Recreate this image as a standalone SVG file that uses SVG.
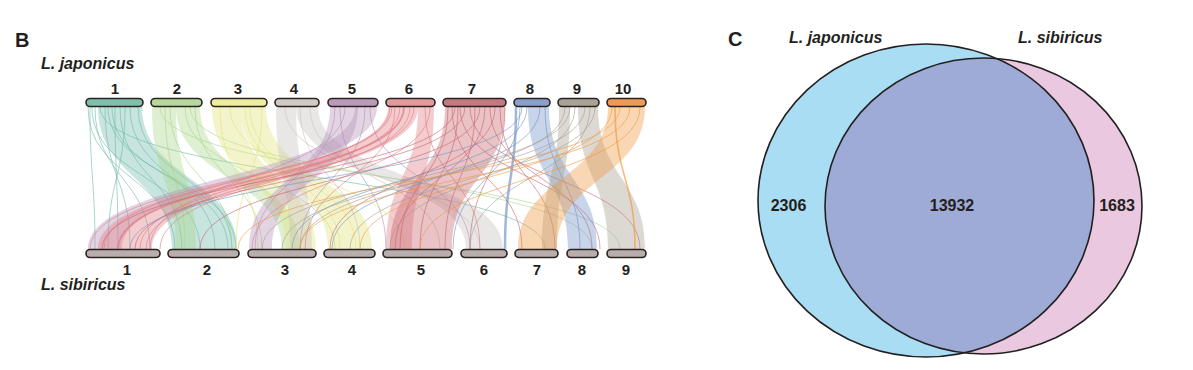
<svg xmlns="http://www.w3.org/2000/svg" width="1193" height="370" viewBox="0 0 1193 370">
<style>
text{font-family:"Liberation Sans",Arial,sans-serif;font-weight:bold;fill:#231f20}
.lbl{font-size:15px;text-anchor:middle}
.sp{font-size:16px;font-style:italic}
.num{font-size:16px;text-anchor:middle}
.bar{stroke:#2b2220;stroke-width:1.6}
.bb{fill:#b8aeae}
.t1{color:#6bb8a8}.t2{color:#a8d48a}.t3{color:#e2e27a}
.t4{color:#c4c0bc}.t5{color:#b48fb6}.t6{color:#e07a80}
.t7{color:#c8606a}.t8{color:#6f8fc4}.t9{color:#a49c8c}
.t10{color:#f0963c}
.r{fill:currentColor;fill-opacity:0.38;stroke:none}
.l{fill:none;stroke:currentColor;stroke-width:0.9;stroke-opacity:0.65}
.ven{fill:none;stroke:#231f20;stroke-width:1.6}
</style>
<defs>
<clipPath id="clipL"><ellipse cx="926" cy="200.5" rx="168" ry="156.5"/></clipPath>
</defs>
<rect width="1193" height="370" fill="#ffffff"/>
<text x="15" y="47" style="font-size:20px">B</text>
<text x="41" y="69" class="sp">L. japonicus</text>
<text x="41" y="290" class="sp">L. sibiricus</text>

<g id="connectors">
<!-- teal -->
<path class="r t1" d="M118,107 C118,178 200,178 200,249 L237,249 C237,178 142,178 142,107 Z"/>
<path class="r t1" d="M98,107 C98,178 172,178 172,249 L200,249 C200,178 118,178 118,107 Z"/>
<path class="l t1" d="M90,107 C90,178 95,178 95,249"/>
<path class="l t1" d="M105,107 C105,178 130,178 130,249"/>
<path class="l t1" d="M95,107 C95,178 150,178 150,249"/>
<path class="l t1" d="M125,107 C125,178 108,178 108,249"/>
<path class="l t1" d="M112,107 C112,178 228,178 228,249"/>
<path class="l t1" d="M100,107 C100,178 545,178 545,249"/>
<path class="l t1" d="M88,107 C88,178 175,178 175,249"/>
<path class="l t1" d="M130,107 C130,178 215,178 215,249"/>
<path class="l t1" d="M92,107 C92,178 200,178 200,249"/>
<path class="l t1" d="M108,107 C108,178 236,178 236,249"/>
<path class="l t1" d="M120,107 C120,178 182,178 182,249"/>
<path class="l t1" d="M138,107 C138,178 232,178 232,249"/>
<path class="l t1" d="M115,107 C115,178 118,178 118,249"/>
<!-- green -->
<path class="r t2" d="M152,107 C152,178 176,178 176,249 L196,249 C196,178 176,178 176,107 Z"/>
<path class="r t2" d="M176,107 C176,178 282,178 282,249 L300,249 C300,178 200,178 200,107 Z"/>
<path class="l t2" d="M160,107 C160,178 620,178 620,249"/>
<path class="l t2" d="M190,107 C190,178 592,178 592,249"/>
<path class="l t2" d="M185,107 C185,178 335,178 335,249"/>
<path class="l t2" d="M170,107 C170,178 232,178 232,249"/>
<path class="l t2" d="M195,107 C195,178 262,178 262,249"/>
<path class="l t2" d="M165,107 C165,178 185,178 185,249"/>
<!-- yellow -->
<path class="r t3" d="M212,107 C212,178 286,178 286,249 L316,249 C316,178 240,178 240,107 Z"/>
<path class="r t3" d="M240,107 C240,178 328,178 328,249 L372,249 C372,178 266,178 266,107 Z"/>
<path class="l t3" d="M220,107 C220,178 258,178 258,249"/>
<path class="l t3" d="M250,107 C250,178 356,178 356,249"/>
<path class="l t3" d="M230,107 C230,178 405,178 405,249"/>
<path class="l t3" d="M262,107 C262,178 236,178 236,249"/>
<path class="l t3" d="M245,107 C245,178 340,178 340,249"/>
<!-- grey -->
<path class="r t4" d="M276,107 C276,178 290,178 290,249 L312,249 C312,178 296,178 296,107 Z"/>
<path class="r t4" d="M296,107 C296,178 466,178 466,249 L503,249 C503,178 318,178 318,107 Z"/>
<path class="l t4" d="M285,107 C285,178 480,178 480,249"/>
<path class="l t4" d="M300,107 C300,178 360,178 360,249"/>
<path class="l t4" d="M310,107 C310,178 440,178 440,249"/>
<!-- mauve -->
<path class="r t5" d="M330,107 C330,178 249,178 249,249 L272,249 C272,178 358,178 358,107 Z"/>
<path class="r t5" d="M355,107 C355,178 88,178 88,249 L122,249 C122,178 377,178 377,107 Z"/>
<path class="l t5" d="M340,107 C340,178 386,178 386,249"/>
<path class="l t5" d="M370,107 C370,178 470,178 470,249"/>
<path class="l t5" d="M345,107 C345,178 150,178 150,249"/>
<path class="l t5" d="M365,107 C365,178 300,178 300,249"/>
<path class="l t5" d="M335,107 C335,178 255,178 255,249"/>
<!-- pink -->
<path class="r t6" d="M388,107 C388,178 98,178 98,249 L152,249 C152,178 418,178 418,107 Z"/>
<path class="r t6" d="M418,107 C418,178 386,178 386,249 L412,249 C412,178 434,178 434,107 Z"/>
<path class="l t6" d="M392,107 C392,178 90,178 90,249"/>
<path class="l t6" d="M400,107 C400,178 140,178 140,249"/>
<path class="l t6" d="M410,107 C410,178 160,178 160,249"/>
<path class="l t6" d="M430,107 C430,178 252,178 252,249"/>
<path class="l t6" d="M395,107 C395,178 305,178 305,249"/>
<path class="l t6" d="M425,107 C425,178 480,178 480,249"/>
<path class="l t6" d="M404,107 C404,178 118,178 118,249" style="stroke-width:2"/>
<path class="l t6" d="M414,107 C414,178 146,178 146,249"/>
<path class="l t6" d="M390,107 C390,178 104,178 104,249"/>
<!-- red -->
<path class="r t7" d="M445,107 C445,178 390,178 390,249 L452,249 C452,178 505,178 505,107 Z"/>
<path class="l t7" d="M460,107 C460,178 600,178 600,249"/>
<path class="l t7" d="M470,107 C470,178 640,178 640,249"/>
<path class="l t7" d="M490,107 C490,178 592,178 592,249"/>
<path class="l t7" d="M500,107 C500,178 555,178 555,249"/>
<path class="l t7" d="M452,107 C452,178 522,178 522,249"/>
<path class="l t7" d="M455,107 C455,178 102,178 102,249"/>
<path class="l t7" d="M465,107 C465,178 135,178 135,249"/>
<path class="l t7" d="M480,107 C480,178 200,178 200,249"/>
<path class="l t7" d="M495,107 C495,178 330,178 330,249"/>
<path class="l t7" d="M448,107 C448,178 400,178 400,249"/>
<path class="l t7" d="M458,107 C458,178 420,178 420,249"/>
<path class="l t7" d="M475,107 C475,178 445,178 445,249"/>
<path class="l t7" d="M485,107 C485,178 395,178 395,249"/>
<path class="l t7" d="M505,107 C505,178 470,178 470,249"/>
<!-- blue -->
<path class="r t8" d="M528,107 C528,178 568,178 568,249 L597,249 C597,178 549,178 549,107 Z"/>
<path class="l t8" d="M516,107 C516,178 505,178 505,249" style="stroke-width:2.5"/>
<path class="l t8" d="M520,107 C520,178 453,178 453,249"/>
<path class="l t8" d="M522,107 C522,178 130,178 130,249"/>
<path class="l t8" d="M527,107 C527,178 292,178 292,249"/>
<path class="l t8" d="M540,107 C540,178 332,178 332,249"/>
<path class="l t8" d="M545,107 C545,178 580,178 580,249"/>
<!-- taupe -->
<path class="r t9" d="M578,107 C578,178 608,178 608,249 L645,249 C645,178 598,178 598,107 Z"/>
<path class="r t9" d="M559,107 C559,178 542,178 542,249 L557,249 C557,178 570,178 570,107 Z"/>
<path class="l t9" d="M565,107 C565,178 300,178 300,249"/>
<path class="l t9" d="M570,107 C570,178 262,178 262,249"/>
<path class="l t9" d="M575,107 C575,178 390,178 390,249"/>
<path class="l t9" d="M585,107 C585,178 282,178 282,249"/>
<path class="l t9" d="M590,107 C590,178 470,178 470,249"/>
<path class="l t9" d="M595,107 C595,178 350,178 350,249"/>
<!-- orange -->
<path class="r t10" d="M608,107 C608,178 518,178 518,249 L557,249 C557,178 645,178 645,107 Z"/>
<path class="l t10" d="M615,107 C615,178 635,178 635,249" style="stroke-width:1.6"/>
<path class="l t10" d="M620,107 C620,178 238,178 238,249"/>
<path class="l t10" d="M630,107 C630,178 300,178 300,249"/>
<path class="l t10" d="M640,107 C640,178 420,178 420,249"/>
<path class="l t10" d="M612,107 C612,178 360,178 360,249"/>
</g>

<g id="lj-chr1"><rect class="bar" x="86" y="98.5" width="57" height="8" rx="4" fill="#7fbfad"/><text class="lbl" x="115" y="94">1</text></g>
<g id="lj-chr2"><rect class="bar" x="151" y="98.5" width="51" height="8" rx="4" fill="#b6d89e"/><text class="lbl" x="177" y="94">2</text></g>
<g id="lj-chr3"><rect class="bar" x="211" y="98.5" width="56" height="8" rx="4" fill="#eeeea0"/><text class="lbl" x="238" y="94">3</text></g>
<g id="lj-chr4"><rect class="bar" x="275" y="98.5" width="44" height="8" rx="4" fill="#cfcac6"/><text class="lbl" x="294" y="94">4</text></g>
<g id="lj-chr5"><rect class="bar" x="328" y="98.5" width="50" height="8" rx="4" fill="#b99ab9"/><text class="lbl" x="352" y="94">5</text></g>
<g id="lj-chr6"><rect class="bar" x="386" y="98.5" width="49" height="8" rx="4" fill="#e39a9c"/><text class="lbl" x="409" y="94">6</text></g>
<g id="lj-chr7"><rect class="bar" x="443" y="98.5" width="63" height="8" rx="4" fill="#c27a80"/><text class="lbl" x="472" y="94">7</text></g>
<g id="lj-chr8"><rect class="bar" x="514" y="98.5" width="36" height="8" rx="4" fill="#8aa0c8"/><text class="lbl" x="530" y="94">8</text></g>
<g id="lj-chr9"><rect class="bar" x="558" y="98.5" width="41" height="8" rx="4" fill="#aaa296"/><text class="lbl" x="577" y="94">9</text></g>
<g id="lj-chr10"><rect class="bar" x="607" y="98.5" width="39" height="8" rx="4" fill="#ee9a55"/><text class="lbl" x="623" y="94">10</text></g>

<g id="ls-chr1"><rect class="bar bb" x="86" y="249.5" width="74" height="8" rx="4"/><text class="lbl" x="127" y="275">1</text></g>
<g id="ls-chr2"><rect class="bar bb" x="168" y="249.5" width="71" height="8" rx="4"/><text class="lbl" x="207" y="275">2</text></g>
<g id="ls-chr3"><rect class="bar bb" x="248" y="249.5" width="68" height="8" rx="4"/><text class="lbl" x="285" y="275">3</text></g>
<g id="ls-chr4"><rect class="bar bb" x="324" y="249.5" width="51" height="8" rx="4"/><text class="lbl" x="352" y="275">4</text></g>
<g id="ls-chr5"><rect class="bar bb" x="383" y="249.5" width="69" height="8" rx="4"/><text class="lbl" x="421" y="275">5</text></g>
<g id="ls-chr6"><rect class="bar bb" x="461" y="249.5" width="46" height="8" rx="4"/><text class="lbl" x="484" y="275">6</text></g>
<g id="ls-chr7"><rect class="bar bb" x="515" y="249.5" width="43" height="8" rx="4"/><text class="lbl" x="537" y="275">7</text></g>
<g id="ls-chr8"><rect class="bar bb" x="567" y="249.5" width="31" height="8" rx="4"/><text class="lbl" x="582" y="275">8</text></g>
<g id="ls-chr9"><rect class="bar bb" x="607" y="249.5" width="39" height="8" rx="4"/><text class="lbl" x="626" y="275">9</text></g>

<text x="728" y="46" style="font-size:20px">C</text>
<g id="venn-ls"><ellipse cx="983.5" cy="206" rx="158.5" ry="148" fill="#eac8df"/></g>
<g id="venn-lj"><ellipse cx="926" cy="200.5" rx="168" ry="156.5" fill="#a9ddf4"/></g>
<g id="venn-overlap"><ellipse cx="983.5" cy="206" rx="158.5" ry="148" fill="#9eabd6" clip-path="url(#clipL)"/></g>
<ellipse class="ven" cx="926" cy="200.5" rx="168" ry="156.5"/>
<ellipse class="ven" cx="983.5" cy="206" rx="158.5" ry="148"/>
<text x="789" y="43" class="sp">L. japonicus</text>
<text x="1018" y="43" class="sp">L. sibiricus</text>
<text x="788.5" y="211" class="num">2306</text>
<text x="952" y="211" class="num">13932</text>
<text x="1117" y="211" class="num">1683</text>
</svg>
